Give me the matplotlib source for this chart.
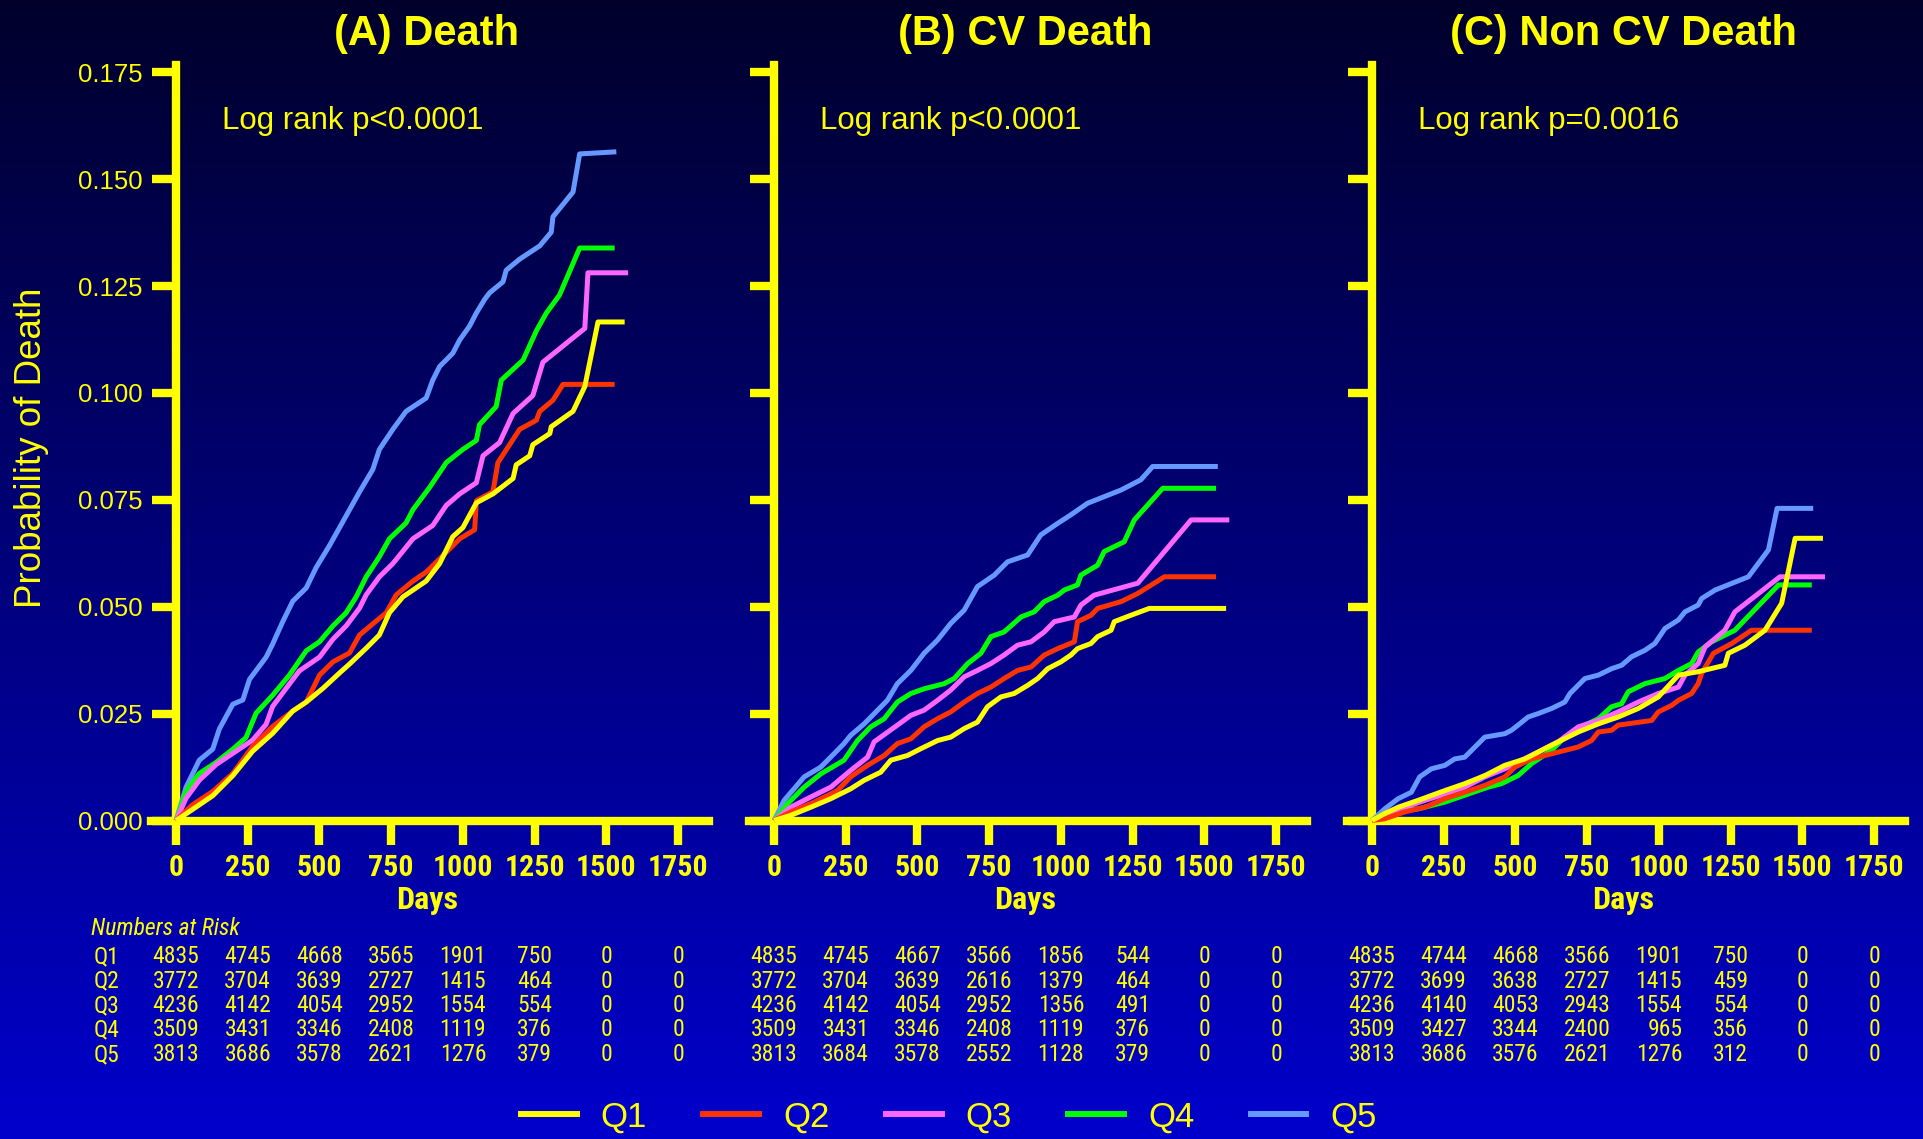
import numpy as np
import matplotlib
matplotlib.use("Agg")
import matplotlib.pyplot as plt
from matplotlib import font_manager
from matplotlib.transforms import blended_transform_factory, offset_copy
from matplotlib.lines import Line2D

# ---------------- data ----------------
series_names = ["Q1", "Q2", "Q3", "Q4", "Q5"]
series_colors = ["#FFFF00", "#FF3300", "#FF66FF", "#00FF00", "#6699FF"]
panel_titles = ["(A) Death", "(B) CV Death", "(C) Non CV Death"]
logrank_texts = ["Log rank p<0.0001", "Log rank p<0.0001", "Log rank p=0.0016"]
x_ticks = [0, 250, 500, 750, 1000, 1250, 1500, 1750]
y_ticks = [0.0, 0.025, 0.05, 0.075, 0.1, 0.125, 0.15, 0.175]

# Panel A: all-cause death
A_Q1_days = [0, 58, 128, 198, 267, 337, 407, 454, 512, 570, 605, 663, 709, 744, 791, 826, 872, 919, 965, 1000, 1047, 1105, 1175, 1186, 1233, 1244, 1303, 1308, 1384, 1425, 1471, 1564]
A_Q1_prob = [0, 0.0026, 0.0058, 0.0105, 0.0162, 0.0204, 0.0256, 0.0277, 0.0309, 0.0345, 0.0366, 0.0403, 0.0434, 0.0486, 0.0523, 0.0539, 0.0560, 0.0601, 0.0664, 0.0685, 0.0743, 0.0764, 0.0800, 0.0832, 0.0853, 0.0879, 0.0905, 0.0921, 0.0957, 0.1015, 0.1166, 0.1166]
A_Q2_days = [0, 58, 128, 198, 267, 337, 407, 454, 500, 547, 605, 640, 686, 733, 768, 826, 872, 919, 989, 1041, 1047, 1105, 1122, 1198, 1256, 1268, 1314, 1349, 1529]
A_Q2_prob = [0, 0.0037, 0.0068, 0.0110, 0.0173, 0.0220, 0.0256, 0.0277, 0.0340, 0.0371, 0.0392, 0.0434, 0.0460, 0.0486, 0.0528, 0.0560, 0.0581, 0.0612, 0.0659, 0.0680, 0.0748, 0.0769, 0.0837, 0.0915, 0.0936, 0.0957, 0.0983, 0.1020, 0.1020]
A_Q3_days = [0, 35, 81, 140, 198, 267, 314, 337, 395, 430, 500, 547, 593, 640, 663, 709, 756, 826, 895, 942, 989, 1047, 1070, 1128, 1175, 1244, 1279, 1425, 1436, 1576]
A_Q3_prob = [0, 0.0052, 0.0094, 0.0131, 0.0157, 0.0188, 0.0225, 0.0267, 0.0319, 0.0350, 0.0382, 0.0424, 0.0455, 0.0497, 0.0528, 0.0570, 0.0601, 0.0659, 0.0690, 0.0737, 0.0764, 0.0790, 0.0853, 0.0884, 0.0952, 0.0994, 0.1072, 0.1151, 0.1281, 0.1281]
A_Q4_days = [0, 35, 81, 140, 198, 244, 279, 337, 395, 454, 500, 547, 593, 628, 663, 709, 744, 802, 826, 884, 942, 1000, 1047, 1058, 1116, 1134, 1210, 1256, 1291, 1337, 1407, 1529]
A_Q4_prob = [0, 0.0068, 0.0110, 0.0136, 0.0167, 0.0194, 0.0251, 0.0293, 0.0340, 0.0397, 0.0418, 0.0455, 0.0486, 0.0523, 0.0570, 0.0617, 0.0659, 0.0696, 0.0727, 0.0779, 0.0837, 0.0868, 0.0889, 0.0926, 0.0968, 0.1030, 0.1077, 0.1145, 0.1187, 0.1229, 0.1339, 0.1339]
A_Q5_days = [0, 35, 81, 128, 151, 198, 233, 256, 314, 337, 372, 407, 454, 488, 535, 570, 605, 640, 686, 709, 756, 802, 872, 895, 919, 965, 989, 1023, 1047, 1076, 1093, 1140, 1151, 1198, 1268, 1308, 1314, 1384, 1407, 1535]
A_Q5_prob = [0, 0.0078, 0.0141, 0.0167, 0.0214, 0.0272, 0.0282, 0.0330, 0.0382, 0.0413, 0.0465, 0.0513, 0.0544, 0.0591, 0.0643, 0.0685, 0.0727, 0.0769, 0.0821, 0.0868, 0.0915, 0.0957, 0.0988, 0.1030, 0.1062, 0.1093, 0.1124, 0.1156, 0.1187, 0.1219, 0.1234, 0.1260, 0.1287, 0.1313, 0.1344, 0.1376, 0.1412, 0.1470, 0.1559, 0.1564]

# Panel B: CV death
B_Q1_days = [0, 58, 128, 198, 267, 314, 372, 407, 465, 512, 570, 616, 663, 709, 744, 791, 837, 884, 919, 954, 1000, 1035, 1058, 1105, 1128, 1175, 1186, 1244, 1308, 1576]
B_Q1_prob = [0, 0.0012, 0.0031, 0.0051, 0.0074, 0.0094, 0.0113, 0.0141, 0.0152, 0.0168, 0.0187, 0.0195, 0.0215, 0.0230, 0.0266, 0.0289, 0.0297, 0.0316, 0.0332, 0.0355, 0.0371, 0.0387, 0.0402, 0.0414, 0.0430, 0.0445, 0.0465, 0.0480, 0.0496, 0.0496]
B_Q2_days = [0, 58, 140, 221, 267, 326, 384, 430, 477, 523, 570, 616, 663, 709, 756, 802, 849, 896, 942, 989, 1047, 1058, 1105, 1128, 1210, 1268, 1361, 1541]
B_Q2_prob = [0, 0.0020, 0.0043, 0.0070, 0.0102, 0.0129, 0.0152, 0.0180, 0.0191, 0.0219, 0.0238, 0.0254, 0.0277, 0.0297, 0.0312, 0.0332, 0.0351, 0.0359, 0.0387, 0.0402, 0.0418, 0.0465, 0.0480, 0.0496, 0.0512, 0.0531, 0.0570, 0.0570]
B_Q3_days = [0, 58, 128, 198, 267, 326, 349, 430, 477, 523, 570, 616, 663, 709, 756, 802, 849, 896, 942, 977, 1047, 1070, 1116, 1268, 1454, 1587]
B_Q3_prob = [0, 0.0031, 0.0055, 0.0078, 0.0117, 0.0148, 0.0184, 0.0223, 0.0246, 0.0258, 0.0281, 0.0305, 0.0336, 0.0351, 0.0367, 0.0387, 0.0410, 0.0418, 0.0441, 0.0465, 0.0476, 0.0504, 0.0527, 0.0555, 0.0703, 0.0703]
B_Q4_days = [0, 47, 105, 163, 244, 291, 337, 384, 430, 477, 523, 593, 628, 675, 721, 756, 802, 861, 907, 942, 989, 1012, 1058, 1070, 1128, 1151, 1221, 1256, 1355, 1541]
B_Q4_prob = [0, 0.0039, 0.0078, 0.0109, 0.0141, 0.0187, 0.0219, 0.0238, 0.0277, 0.0297, 0.0308, 0.0320, 0.0332, 0.0367, 0.0391, 0.0430, 0.0441, 0.0476, 0.0488, 0.0512, 0.0527, 0.0539, 0.0551, 0.0574, 0.0597, 0.0629, 0.0652, 0.0703, 0.0777, 0.0777]
B_Q5_days = [0, 35, 105, 163, 209, 244, 267, 314, 361, 395, 430, 477, 523, 570, 616, 663, 709, 768, 814, 884, 930, 989, 1035, 1093, 1210, 1279, 1320, 1547]
B_Q5_prob = [0, 0.0047, 0.0102, 0.0125, 0.0156, 0.0180, 0.0199, 0.0226, 0.0258, 0.0281, 0.0320, 0.0351, 0.0391, 0.0422, 0.0461, 0.0492, 0.0547, 0.0574, 0.0605, 0.0621, 0.0668, 0.0695, 0.0715, 0.0742, 0.0773, 0.0797, 0.0828, 0.0828]

# Panel C: non-CV death
C_Q1_days = [0, 44, 91, 160, 254, 323, 393, 463, 533, 602, 649, 719, 789, 858, 928, 998, 1068, 1137, 1230, 1242, 1300, 1370, 1428, 1475, 1572]
C_Q1_prob = [0, 0.0016, 0.0031, 0.0047, 0.0070, 0.0086, 0.0105, 0.0129, 0.0144, 0.0168, 0.0184, 0.0207, 0.0226, 0.0242, 0.0262, 0.0289, 0.0340, 0.0348, 0.0363, 0.0391, 0.0410, 0.0445, 0.0508, 0.0660, 0.0660]
C_Q2_days = [0, 44, 79, 114, 184, 254, 323, 393, 463, 498, 556, 626, 719, 765, 789, 835, 858, 975, 998, 1044, 1068, 1114, 1137, 1149, 1190, 1254, 1323, 1533]
C_Q2_prob = [0, 0.0004, 0.0012, 0.0020, 0.0031, 0.0051, 0.0066, 0.0082, 0.0102, 0.0125, 0.0144, 0.0156, 0.0172, 0.0187, 0.0207, 0.0211, 0.0223, 0.0234, 0.0254, 0.0269, 0.0281, 0.0297, 0.0320, 0.0344, 0.0391, 0.0414, 0.0445, 0.0445]
C_Q3_days = [0, 44, 114, 184, 254, 323, 393, 463, 509, 579, 649, 719, 789, 858, 928, 998, 1068, 1091, 1137, 1161, 1230, 1265, 1422, 1579]
C_Q3_prob = [0, 0.0012, 0.0031, 0.0047, 0.0062, 0.0078, 0.0102, 0.0121, 0.0137, 0.0160, 0.0184, 0.0219, 0.0234, 0.0254, 0.0277, 0.0297, 0.0312, 0.0340, 0.0367, 0.0406, 0.0445, 0.0488, 0.0570, 0.0570]
C_Q4_days = [0, 44, 91, 160, 254, 323, 405, 451, 509, 556, 626, 672, 730, 789, 835, 870, 893, 951, 1021, 1068, 1114, 1137, 1184, 1265, 1417, 1533]
C_Q4_prob = [0, 0.0016, 0.0023, 0.0027, 0.0043, 0.0059, 0.0078, 0.0086, 0.0105, 0.0133, 0.0164, 0.0195, 0.0219, 0.0238, 0.0266, 0.0273, 0.0301, 0.0320, 0.0332, 0.0351, 0.0367, 0.0394, 0.0418, 0.0445, 0.0551, 0.0551]
C_Q5_days = [0, 44, 91, 137, 166, 207, 254, 288, 323, 347, 393, 463, 486, 509, 544, 579, 626, 672, 690, 742, 789, 835, 870, 905, 951, 986, 1021, 1068, 1091, 1137, 1149, 1196, 1312, 1382, 1412, 1538]
C_Q5_prob = [0, 0.0027, 0.0051, 0.0066, 0.0102, 0.0121, 0.0129, 0.0144, 0.0148, 0.0164, 0.0195, 0.0203, 0.0211, 0.0223, 0.0242, 0.0250, 0.0262, 0.0277, 0.0297, 0.0332, 0.0340, 0.0355, 0.0363, 0.0383, 0.0398, 0.0414, 0.0449, 0.0469, 0.0488, 0.0504, 0.0519, 0.0539, 0.0570, 0.0633, 0.0730, 0.0730]

# Numbers at risk (rows Q1..Q5, columns at 0,250,...,1750 days)
A_risk = [["4835", "4745", "4668", "3565", "1901", "750", "0", "0"],
          ["3772", "3704", "3639", "2727", "1415", "464", "0", "0"],
          ["4236", "4142", "4054", "2952", "1554", "554", "0", "0"],
          ["3509", "3431", "3346", "2408", "1119", "376", "0", "0"],
          ["3813", "3686", "3578", "2621", "1276", "379", "0", "0"]]
B_risk = [["4835", "4745", "4667", "3566", "1856", "544", "0", "0"],
          ["3772", "3704", "3639", "2616", "1379", "464", "0", "0"],
          ["4236", "4142", "4054", "2952", "1356", "491", "0", "0"],
          ["3509", "3431", "3346", "2408", "1119", "376", "0", "0"],
          ["3813", "3684", "3578", "2552", "1128", "379", "0", "0"]]
C_risk = [["4835", "4744", "4668", "3566", "1901", "750", "0", "0"],
          ["3772", "3699", "3638", "2727", "1415", "459", "0", "0"],
          ["4236", "4140", "4053", "2943", "1554", "554", "0", "0"],
          ["3509", "3427", "3344", "2400", "965", "356", "0", "0"],
          ["3813", "3686", "3576", "2621", "1276", "312", "0", "0"]]

panels = [
    ([A_Q1_days, A_Q2_days, A_Q3_days, A_Q4_days, A_Q5_days],
     [A_Q1_prob, A_Q2_prob, A_Q3_prob, A_Q4_prob, A_Q5_prob], A_risk),
    ([B_Q1_days, B_Q2_days, B_Q3_days, B_Q4_days, B_Q5_days],
     [B_Q1_prob, B_Q2_prob, B_Q3_prob, B_Q4_prob, B_Q5_prob], B_risk),
    ([C_Q1_days, C_Q2_days, C_Q3_days, C_Q4_days, C_Q5_days],
     [C_Q1_prob, C_Q2_prob, C_Q3_prob, C_Q4_prob, C_Q5_prob], C_risk),
]

# ---------------- fonts ----------------
names = {f.name for f in font_manager.fontManager.ttflist}
SANS = "Liberation Sans" if "Liberation Sans" in names else "DejaVu Sans"
NARROW, NSCALE, DIGW = SANS, 0.86, 0.556
for cand, dw in [("Liberation Sans Narrow", 0.456), ("Arial Narrow", 0.456),
                 ("Roboto Condensed", 0.50), ("Open Sans Condensed", 0.46),
                 ("Noto Sans Condensed", 0.50), ("DejaVu Sans Condensed", 0.57)]:
    if cand in names:
        NARROW, NSCALE, DIGW = cand, 1.0, dw
        break

YEL = "#FFFF00"
W, H = 1923, 1139
fig = plt.figure(figsize=(W / 100, H / 100), dpi=100)

# background gradient
bg = fig.add_axes([0, 0, 1, 1], zorder=-10)
t = np.linspace(0, 1, 512)[:, None]
top = np.array([0.0, 0.0, 0.17])
bot = np.array([0.0, 0.0, 0.80])
grad = top[None, None, :] * (1 - t[..., None]) + bot[None, None, :] * t[..., None]
bg.imshow(grad, aspect="auto", extent=[0, 1, 0, 1])
bg.axis("off")

lefts_px = [150.5, 748.5, 1346.5]
width_px = 558.5
ax_bottom = 1 - 820.5 / H
ax_height = (820.5 - 65) / H

risk_fs = 17 * NSCALE
digit_w_pt = DIGW * risk_fs

for pi, (days_list, prob_list, risk) in enumerate(panels):
    ax = fig.add_axes([lefts_px[pi] / W, ax_bottom, width_px / W, ax_height])
    ax.set_facecolor("none")
    ax.set_xlim(-89, 1858)
    ax.set_ylim(0, 0.1767)
    for s in ["top", "right"]:
        ax.spines[s].set_visible(False)
    ax.spines["left"].set_position(("data", 0))
    for s in ["left", "bottom"]:
        ax.spines[s].set_color(YEL)
        ax.spines[s].set_linewidth(6)
    ax.set_xticks(x_ticks)
    ax.set_yticks(y_ticks)
    ax.tick_params(axis="both", color=YEL, width=6, length=17, direction="out",
                   labelcolor=YEL)
    ax.tick_params(axis="x", pad=7)
    ax.tick_params(axis="y", pad=7)
    ax.set_xticklabels([str(v) for v in x_ticks], fontfamily=NARROW,
                       fontweight="bold", fontsize=21.5 * NSCALE)
    if pi == 0:
        ax.set_yticklabels(["%.3f" % v for v in y_ticks], fontfamily=SANS, fontsize=18.5)
    else:
        ax.tick_params(axis="y", labelleft=False)

    for k in [4, 3, 2, 1, 0]:
        ax.plot(days_list[k], prob_list[k], color=series_colors[k], lw=3.6,
                solid_joinstyle="round", solid_capstyle="butt", zorder=3 + (4 - k),
                clip_on=False)

    tr = blended_transform_factory(ax.transData, fig.transFigure)
    ax.text(875, 1 - 34.5 / H, panel_titles[pi], transform=tr, ha="center", va="center",
            fontsize=30, fontweight="bold", color=YEL, fontfamily=SANS)
    ax.text(160, 0.1637, logrank_texts[pi], ha="left", va="center", fontsize=22.5,
            color=YEL, fontfamily=SANS)
    ax.text(875, 1 - 900 / H, "Days", transform=tr, ha="center", va="center",
            fontsize=23 * (NSCALE if NSCALE < 1 else 1), fontweight="bold", color=YEL,
            fontfamily=NARROW)

    # numbers at risk
    y0 = 1 - 956.5 / H
    dy = 24.5 / H
    for r, row in enumerate(risk):
        yy = y0 - r * dy
        if pi == 0:
            ax.text(-241, yy, series_names[r], transform=tr, ha="center", va="center",
                    fontsize=risk_fs, color=YEL, fontfamily=NARROW, clip_on=False)
        for c, s in enumerate(row):
            maxlen = max(len(rw[c]) for rw in risk)
            if len(s) == maxlen:
                ax.text(x_ticks[c], yy, s, transform=tr, ha="center", va="center",
                        fontsize=risk_fs, color=YEL, fontfamily=NARROW)
            else:
                tro = offset_copy(tr, fig=fig, x=maxlen / 2 * digit_w_pt, y=0, units="points")
                ax.text(x_ticks[c], yy, s, transform=tro, ha="right", va="center",
                        fontsize=risk_fs, color=YEL, fontfamily=NARROW)

fig.text(91 / W, 1 - 928.5 / H, "Numbers at Risk", ha="left", va="center",
         fontsize=risk_fs, style="italic", color=YEL, fontfamily=NARROW)

fig.text(32 / W, 1 - 448 / H, "Probability of Death", rotation=90, ha="center",
         va="center", fontsize=26.5, color=YEL, fontfamily=SANS)

handles = [Line2D([], [], color=c, lw=4.3) for c in series_colors]
leg = fig.legend(handles, series_names, loc="center", bbox_to_anchor=(0.4935, 0.0195),
                 ncol=5, frameon=False, handlelength=1.6,
                 handletextpad=0.7, columnspacing=1.62, labelcolor=YEL,
                 prop={"family": SANS, "size": 25})

fig.savefig("out.png", dpi=100)
